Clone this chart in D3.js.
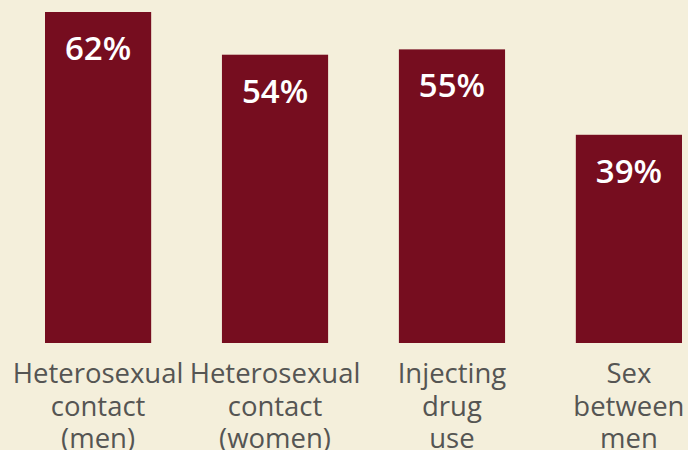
<!DOCTYPE html>
<html>
<head>
<meta charset="utf-8">
<script src="https://cdn.jsdelivr.net/npm/d3@7"></script>
<style>
  html, body { margin: 0; padding: 0; background: #f4efdb; }
  svg { display: block; }
</style>
</head>
<body>
<svg id="chart" width="688" height="450"></svg>
<script>
const categories = [
  ["Heterosexual", "contact", "(men)"],
  ["Heterosexual", "contact", "(women)"],
  ["Injecting", "drug", "use"],
  ["Sex", "between", "men"]
];
const values = [62, 54, 55, 39];
const valueLabels = ["62%", "54%", "55%", "39%"];

const W = 688, H = 450;
const svg = d3.select("#chart");
svg.append("rect").attr("width", W).attr("height", H).attr("fill", "#f4efdb");

const keys = categories.map((c, i) => i);
const x = d3.scaleBand().domain(keys).range([45, 682]).paddingInner(0.4);
const y = d3.scaleLinear().domain([0, 62]).range([343, 12]);

const g = svg.append("g");
g.selectAll("rect.bar").data(values).join("rect")
  .attr("class", "bar")
  .attr("x", (d, i) => x(i))
  .attr("width", x.bandwidth())
  .attr("y", d => y(d))
  .attr("height", d => y(0) - y(d))
  .attr("fill", "#760d1f");

g.selectAll("text.val").data(values).join("text")
  .attr("class", "val")
  .attr("x", (d, i) => x(i) + x.bandwidth() / 2)
  .attr("y", d => y(d) + 48)
  .attr("text-anchor", "middle")
  .attr("fill", "#ffffff")
  .attr("font-family", "'Open Sans', sans-serif")
  .attr("font-weight", 600)
  .attr("font-size", 33)
  .text((d, i) => valueLabels[i]);

const lines = [];
categories.forEach((c, i) => c.forEach((t, j) => lines.push({ i, j, t })));
g.selectAll("text.cat").data(lines).join("text")
  .attr("class", "cat")
  .attr("x", d => x(d.i) + x.bandwidth() / 2)
  .attr("y", d => 383 + d.j * 32.5)
  .attr("text-anchor", "middle")
  .attr("fill", "#555553")
  .attr("font-family", "'Open Sans', sans-serif")
  .attr("font-size", 27.5)
  .text(d => d.t);
</script>
</body>
</html>
